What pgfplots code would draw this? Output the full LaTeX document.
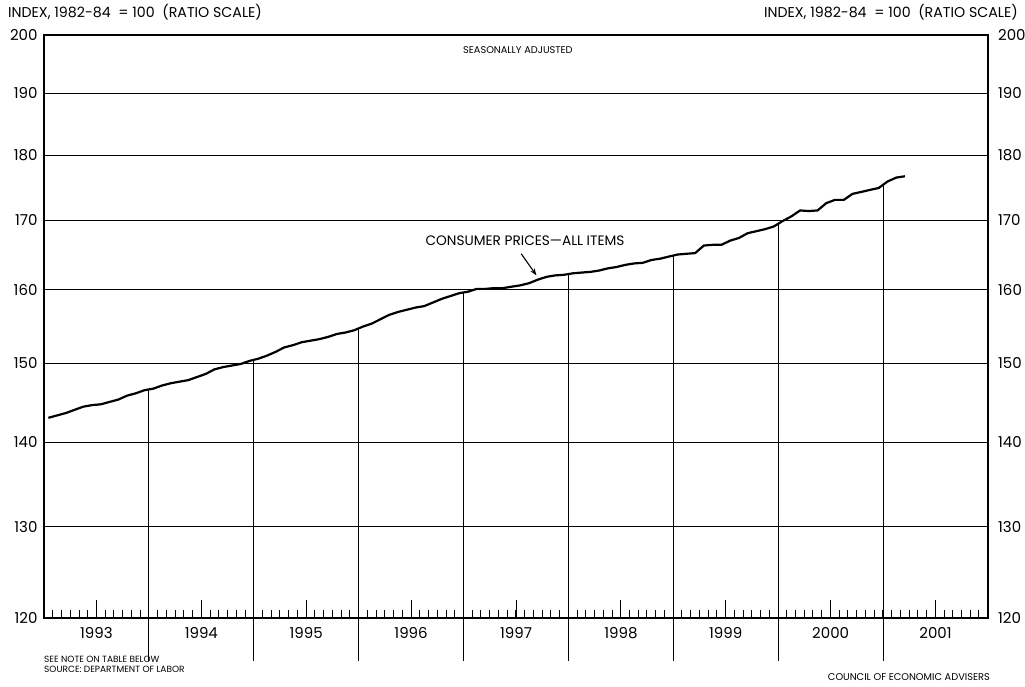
\documentclass[border=0pt]{standalone}
\usepackage{fontspec}
\setmainfont{Poppins}
\usepackage{pgfplots}
\usepackage{pgfplotstable}
\pgfplotsset{compat=1.18}
\usetikzlibrary{arrows.meta}

% monthly CPI (index, 1982-84 = 100)
\pgfplotstableread{
year month cpi
1993 1 143.0
1993 2 143.3
1993 3 143.6
1993 4 144.0
1993 5 144.4
1993 6 144.6
1993 7 144.7
1993 8 145.0
1993 9 145.3
1993 10 145.8
1993 11 146.1
1993 12 146.5
1994 1 146.7
1994 2 147.1
1994 3 147.4
1994 4 147.6
1994 5 147.8
1994 6 148.2
1994 7 148.6
1994 8 149.2
1994 9 149.5
1994 10 149.7
1994 11 149.9
1994 12 150.3
1995 1 150.6
1995 2 151.0
1995 3 151.5
1995 4 152.1
1995 5 152.4
1995 6 152.8
1995 7 153.0
1995 8 153.2
1995 9 153.5
1995 10 153.9
1995 11 154.1
1995 12 154.4
1996 1 154.9
1996 2 155.3
1996 3 155.9
1996 4 156.5
1996 5 156.9
1996 6 157.2
1996 7 157.5
1996 8 157.7
1996 9 158.2
1996 10 158.7
1996 11 159.1
1996 12 159.5
1997 1 159.7
1997 2 160.1
1997 3 160.1
1997 4 160.2
1997 5 160.2
1997 6 160.4
1997 7 160.6
1997 8 160.9
1997 9 161.4
1997 10 161.8
1997 11 162.0
1997 12 162.1
1998 1 162.3
1998 2 162.4
1998 3 162.5
1998 4 162.7
1998 5 163.0
1998 6 163.2
1998 7 163.5
1998 8 163.7
1998 9 163.8
1998 10 164.2
1998 11 164.4
1998 12 164.7
1999 1 165.0
1999 2 165.1
1999 3 165.2
1999 4 166.3
1999 5 166.4
1999 6 166.4
1999 7 167.0
1999 8 167.4
1999 9 168.1
1999 10 168.4
1999 11 168.7
1999 12 169.1
2000 1 169.9
2000 2 170.6
2000 3 171.5
2000 4 171.4
2000 5 171.5
2000 6 172.6
2000 7 173.1
2000 8 173.1
2000 9 174.0
2000 10 174.3
2000 11 174.6
2000 12 174.9
2001 1 175.9
2001 2 176.5
2001 3 176.7
}\cpidata

\begin{document}
\begin{tikzpicture}[x=1pt,y=1pt]
\path[use as bounding box] (-44,-68) rectangle (981,618);
\begin{axis}[
    at={(0,0)}, anchor=south west,
    scale only axis, width=944pt, height=583pt,
    xmin=1993, xmax=2002,
    ymode=log, ymin=120, ymax=200,
    ytick={120,130,140,150,160,170,180,190,200},
    yticklabels={120,130,140,150,160,170,180,190,200},
    ymajorgrids,
    major y grid style={black, line width=0.9pt},
    ytick style={draw=none},
    xtick={1993.5,1994.5,1995.5,1996.5,1997.5,1998.5,1999.5,2000.5,2001.5},
    xticklabels={1993,1994,1995,1996,1997,1998,1999,2000,2001},
    minor xtick={1993,1993.083333,...,2002},
    xtick pos=bottom, tick align=inside,
    major tick length=18pt, minor tick length=8pt,
    xtick style={black, line width=0.9pt},
    minor x tick style={black, line width=0.8pt},
    axis line style={line width=1.2pt},
    tick label style={font=\fontsize{15}{15}\selectfont},
    yticklabel style={xshift=-3pt},
    xticklabel style={yshift=-6pt},
    clip=false,
]
\addplot[black, line width=2.2pt] table[x expr=\thisrow{year}+(\thisrow{month}-0.5)/12, y=cpi] {\cpidata};

% year dividers, from below the axis up to the curve
\addplot[black, line width=0.9pt] coordinates {(1994,115.6) (1994,146.6)};
\addplot[black, line width=0.9pt] coordinates {(1995,115.6) (1995,150.45)};
\addplot[black, line width=0.9pt] coordinates {(1996,115.6) (1996,154.65)};
\addplot[black, line width=0.9pt] coordinates {(1997,115.6) (1997,159.6)};
\addplot[black, line width=0.9pt] coordinates {(1998,115.6) (1998,162.2)};
\addplot[black, line width=0.9pt] coordinates {(1999,115.6) (1999,164.85)};
\addplot[black, line width=0.9pt] coordinates {(2000,115.6) (2000,169.5)};
\addplot[black, line width=0.9pt] coordinates {(2001,115.6) (2001,175.4)};

\pgfplotsinvokeforeach{120,130,140,150,160,170,180,190,200}{
  \node[anchor=west, font=\fontsize{15}{15}\selectfont, inner sep=0pt, xshift=10pt] at (axis cs:2002,#1) {#1};
}

\node[anchor=west, xshift=-36pt, yshift=23pt, font=\fontsize{14.2}{14.2}\selectfont, inner sep=0pt]
  at (rel axis cs:0,1) {INDEX, 1982-84 \ = 100 \ (RATIO SCALE)};
\node[anchor=east, xshift=30pt, yshift=23pt, font=\fontsize{14.2}{14.2}\selectfont, inner sep=0pt]
  at (rel axis cs:1,1) {INDEX, 1982-84 \ = 100 \ (RATIO SCALE)};
\node[font=\fontsize{9.8}{9.8}\selectfont, inner sep=0pt, yshift=-15pt]
  at (rel axis cs:0.502,1) {SEASONALLY ADJUSTED};
\node[font=\fontsize{13.7}{13.7}\selectfont, inner sep=0pt]
  at (rel axis cs:0.5095,0.6467) {CONSUMER PRICES---ALL ITEMS};
\draw[-{Stealth[length=7pt,width=5pt]}, line width=1.1pt]
  (axis cs:1997.55,165.1) -- (axis cs:1997.695,162.0);

\node[anchor=north west, align=left, font=\fontsize{9}{10.5}\selectfont, inner sep=0pt, yshift=-38pt]
  at (rel axis cs:0,0) {SEE NOTE ON TABLE BELOW\\SOURCE: DEPARTMENT OF LABOR};
\node[anchor=east, font=\fontsize{9.8}{9.8}\selectfont, inner sep=0pt, xshift=2pt, yshift=-59pt]
  at (rel axis cs:1,0) {COUNCIL OF ECONOMIC ADVISERS};
\end{axis}
\end{tikzpicture}
\end{document}
